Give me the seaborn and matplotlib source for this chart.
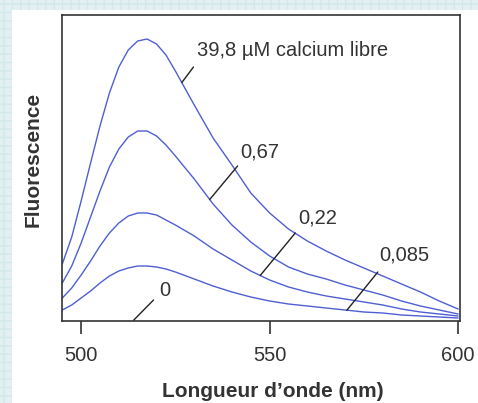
import numpy as np
import pandas as pd
import matplotlib
matplotlib.use("Agg")
import matplotlib.pyplot as plt
from matplotlib.patches import Rectangle
import seaborn as sns

sns.set_style("white")
plt.rcParams['font.family'] = ['Liberation Sans', 'DejaVu Sans']

# longueurs d'onde (nm) et intensités (unités arbitraires)
longueur = [495, 497.5, 500, 502.5, 505, 507.5, 510, 512.5, 515, 517.5, 520, 522.5, 525,
            530, 535, 540, 545, 550, 555, 560, 565, 570, 575, 580, 585, 590, 595, 600]
ca_398 = [57, 84, 120, 158, 195, 228, 254, 271, 280, 282, 277, 266, 250,
          216, 183, 156, 128, 108, 92, 80, 70, 61, 53, 45, 37, 29, 20, 12]
ca_067 = [38, 55, 78, 104, 130, 154, 172, 184, 190, 190, 185, 176, 165,
          142, 117, 96, 79, 65, 54, 47, 42, 36, 31, 26, 20, 15, 11, 7]
ca_022 = [23, 33, 46, 60, 75, 88, 98, 105, 108, 108, 106, 101, 96,
          85, 72, 61, 50, 41, 34, 29, 25, 22, 19, 16, 12, 9, 7, 5]
ca_0085 = [11, 16, 23, 30, 38, 45, 50, 53, 55, 55, 54, 52, 49,
           42, 35, 29, 24, 20, 17, 15, 13, 11, 9, 8, 6, 5, 4, 3]
concentrations = ["39,8", "0,67", "0,22", "0,085"]
series = [ca_398, ca_067, ca_022, ca_0085]

df = pd.concat([pd.DataFrame({"nm": longueur, "F": s, "ca": c})
                for c, s in zip(concentrations, series)])

bleu = "#4f5fd2"
fig = plt.figure(figsize=(4.78, 4.03), dpi=100)
fig.patch.set_facecolor("#e2f0f2")
# fond quadrillé + zone blanche
fig.patches.append(Rectangle((0, 0), 1, 1, transform=fig.transFigure, facecolor="#e2f0f2",
                             edgecolor="#d3e8ec", hatch="++", lw=0, zorder=-2))
fig.patches.append(Rectangle((12 / 478, 0), 1, 393 / 403, transform=fig.transFigure,
                             facecolor="white", lw=0, zorder=-1))

ax = fig.add_axes([62.3 / 478, 82 / 403, 397.7 / 478, 306 / 403])
sns.lineplot(data=df, x="nm", y="F", hue="ca", palette=[bleu] * 4, legend=False,
             lw=1.0, ax=ax)

# traits de repère et étiquettes
etiquettes = [
    # texte, nm départ, série départ, nm fin, valeur fin, x texte, y texte
    ("39,8 \u00b5M calcium libre", 526.7, ca_398, 529.8, 254, 530.8, 271),
    ("0,67", 534.1, ca_067, 541.5, 155, 542.2, 169),
    ("0,22", 547.5, ca_022, 556.8, 88, 557.5, 103),
    ("0,085", 570.5, ca_0085, 578.7, 49, 579.1, 66),
    ("0", 513.9, None, 519.2, 21, 520.8, 31),
]
for txt, x0, s, x1, y1, xt, yt in etiquettes:
    y0 = np.interp(x0, longueur, s) if s is not None else 0.7
    ax.plot([x0, x1], [y0, y1], color="#222222", lw=1.0)
    ax.text(xt, yt, txt, fontsize=14.5, color="#333333", ha="left", va="center")

ax.set_xlim(495, 600.5)
ax.set_ylim(0, 306)
ax.set_xticks([500, 550, 600])
ax.set_yticks([])
ax.tick_params(axis="x", direction="out", length=9, width=1.2, pad=9,
               labelsize=14.5, colors="#333333", bottom=True)
for sp in ax.spines.values():
    sp.set_color("#333333")
    sp.set_linewidth(1.2)

ax.set_xlabel("Longueur d\u2019onde (nm)", fontsize=15, fontweight="bold", color="#333333")
ax.set_ylabel("Fluorescence", fontsize=15, fontweight="bold", color="#333333")
ax.xaxis.set_label_coords(0.529, -0.229)
ax.yaxis.set_label_coords(-0.074, 0.529)
ax.xaxis.label.set_va("center")
ax.yaxis.label.set_va("center")

fig.savefig("out.png", dpi=100, facecolor=fig.get_facecolor())
